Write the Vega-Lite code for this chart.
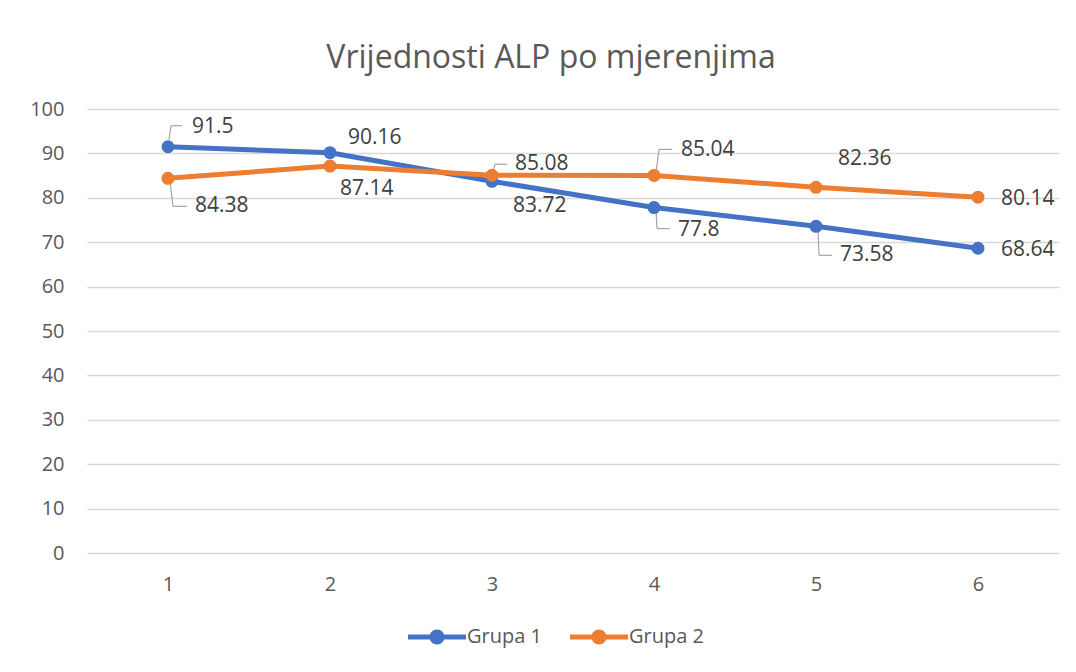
{
  "$schema": "https://vega.github.io/schema/vega-lite/v6.json",
  "width": 972,
  "height": 444,
  "autosize": "none",
  "padding": {"left": 87, "top": 109, "right": 17, "bottom": 119},
  "background": "white",
  "title": {"text": "Vrijednosti ALP po mjerenjima", "font": "Open Sans", "fontSize": 32, "fontWeight": "normal", "color": "#595959", "anchor": "middle", "offset": 24, "dx": -22},
  "data": {"values": [
    {"mjerenje": 1, "grupa": "Grupa 1", "vrijednost": 91.5},
    {"mjerenje": 2, "grupa": "Grupa 1", "vrijednost": 90.16},
    {"mjerenje": 3, "grupa": "Grupa 1", "vrijednost": 83.72},
    {"mjerenje": 4, "grupa": "Grupa 1", "vrijednost": 77.8},
    {"mjerenje": 5, "grupa": "Grupa 1", "vrijednost": 73.58},
    {"mjerenje": 6, "grupa": "Grupa 1", "vrijednost": 68.64},
    {"mjerenje": 1, "grupa": "Grupa 2", "vrijednost": 84.38},
    {"mjerenje": 2, "grupa": "Grupa 2", "vrijednost": 87.14},
    {"mjerenje": 3, "grupa": "Grupa 2", "vrijednost": 85.08},
    {"mjerenje": 4, "grupa": "Grupa 2", "vrijednost": 85.04},
    {"mjerenje": 5, "grupa": "Grupa 2", "vrijednost": 82.36},
    {"mjerenje": 6, "grupa": "Grupa 2", "vrijednost": 80.14}
  ]},
  "encoding": {
    "x": {"field": "mjerenje", "type": "ordinal", "scale": {"type": "point", "padding": 0.5},
      "axis": {"title": null, "labelAngle": 0, "domain": false, "ticks": false, "grid": false, "labelFont": "Open Sans", "labelFontSize": 20, "labelColor": "#595959", "labelPadding": 21}},
    "y": {"field": "vrijednost", "type": "quantitative", "scale": {"domain": [0, 100], "nice": false},
      "axis": {"title": null, "values": [0, 10, 20, 30, 40, 50, 60, 70, 80, 90, 100], "domain": false, "ticks": false, "grid": true, "gridColor": "#d9d9d9", "gridWidth": 1.3, "labelFont": "Open Sans", "labelFontSize": 20, "labelColor": "#595959", "labelPadding": 23}}
  },
  "layer": [
    {"transform": [{"filter": "datum.grupa === 'Grupa 1' && datum.mjerenje === 1"}], "mark": {"type": "rule", "color": "#a5a5a5", "strokeWidth": 1.2, "xOffset": 1, "yOffset": -7, "x2Offset": 3, "y2Offset": -21}, "encoding": {"x2": {"field": "mjerenje"}, "y2": {"field": "vrijednost"}}},
    {"transform": [{"filter": "datum.grupa === 'Grupa 1' && datum.mjerenje === 1"}], "mark": {"type": "rule", "color": "#a5a5a5", "strokeWidth": 1.2, "xOffset": 3, "yOffset": -21, "x2Offset": 14, "y2Offset": -21}, "encoding": {"x2": {"field": "mjerenje"}, "y2": {"field": "vrijednost"}}},
    {"transform": [{"filter": "datum.grupa === 'Grupa 2' && datum.mjerenje === 1"}], "mark": {"type": "rule", "color": "#a5a5a5", "strokeWidth": 1.2, "xOffset": 2, "yOffset": 3, "x2Offset": 5, "y2Offset": 28}, "encoding": {"x2": {"field": "mjerenje"}, "y2": {"field": "vrijednost"}}},
    {"transform": [{"filter": "datum.grupa === 'Grupa 2' && datum.mjerenje === 1"}], "mark": {"type": "rule", "color": "#a5a5a5", "strokeWidth": 1.2, "xOffset": 5, "yOffset": 28, "x2Offset": 19, "y2Offset": 28}, "encoding": {"x2": {"field": "mjerenje"}, "y2": {"field": "vrijednost"}}},
    {"transform": [{"filter": "datum.grupa === 'Grupa 2' && datum.mjerenje === 3"}], "mark": {"type": "rule", "color": "#a5a5a5", "strokeWidth": 1.2, "xOffset": 1, "yOffset": -3, "x2Offset": 3, "y2Offset": -11}, "encoding": {"x2": {"field": "mjerenje"}, "y2": {"field": "vrijednost"}}},
    {"transform": [{"filter": "datum.grupa === 'Grupa 2' && datum.mjerenje === 3"}], "mark": {"type": "rule", "color": "#a5a5a5", "strokeWidth": 1.2, "xOffset": 3, "yOffset": -11, "x2Offset": 15, "y2Offset": -11}, "encoding": {"x2": {"field": "mjerenje"}, "y2": {"field": "vrijednost"}}},
    {"transform": [{"filter": "datum.grupa === 'Grupa 2' && datum.mjerenje === 4"}], "mark": {"type": "rule", "color": "#a5a5a5", "strokeWidth": 1.2, "xOffset": 2, "yOffset": -3, "x2Offset": 5, "y2Offset": -26}, "encoding": {"x2": {"field": "mjerenje"}, "y2": {"field": "vrijednost"}}},
    {"transform": [{"filter": "datum.grupa === 'Grupa 2' && datum.mjerenje === 4"}], "mark": {"type": "rule", "color": "#a5a5a5", "strokeWidth": 1.2, "xOffset": 5, "yOffset": -26, "x2Offset": 18, "y2Offset": -26}, "encoding": {"x2": {"field": "mjerenje"}, "y2": {"field": "vrijednost"}}},
    {"transform": [{"filter": "datum.grupa === 'Grupa 1' && datum.mjerenje === 4"}], "mark": {"type": "rule", "color": "#a5a5a5", "strokeWidth": 1.2, "xOffset": 2, "yOffset": 3, "x2Offset": 3, "y2Offset": 21}, "encoding": {"x2": {"field": "mjerenje"}, "y2": {"field": "vrijednost"}}},
    {"transform": [{"filter": "datum.grupa === 'Grupa 1' && datum.mjerenje === 4"}], "mark": {"type": "rule", "color": "#a5a5a5", "strokeWidth": 1.2, "xOffset": 3, "yOffset": 21, "x2Offset": 16, "y2Offset": 21}, "encoding": {"x2": {"field": "mjerenje"}, "y2": {"field": "vrijednost"}}},
    {"transform": [{"filter": "datum.grupa === 'Grupa 1' && datum.mjerenje === 5"}], "mark": {"type": "rule", "color": "#a5a5a5", "strokeWidth": 1.2, "xOffset": 2, "yOffset": 4, "x2Offset": 3, "y2Offset": 29}, "encoding": {"x2": {"field": "mjerenje"}, "y2": {"field": "vrijednost"}}},
    {"transform": [{"filter": "datum.grupa === 'Grupa 1' && datum.mjerenje === 5"}], "mark": {"type": "rule", "color": "#a5a5a5", "strokeWidth": 1.2, "xOffset": 3, "yOffset": 29, "x2Offset": 16, "y2Offset": 29}, "encoding": {"x2": {"field": "mjerenje"}, "y2": {"field": "vrijednost"}}},
    {"mark": {"type": "line", "strokeWidth": 5, "strokeCap": "round", "strokeJoin": "round"},
      "encoding": {"color": {"field": "grupa", "type": "nominal", "scale": {"domain": ["Grupa 1", "Grupa 2"], "range": ["#4472C4", "#ED7D31"]},
        "legend": {"title": null, "orient": "none", "direction": "horizontal", "legendX": 340, "legendY": 518, "padding": 0,
          "symbolType": "M-3.87,-0.33L3.87,-0.33L3.87,0.33L-3.87,0.33Z M-1,0A1,1 0 1,1 1,0A1,1 0 1,1 -1,0Z",
          "symbolSize": 225, "symbolStrokeWidth": 0, "labelOffset": 20, "columnPadding": 27,
          "labelFont": "Open Sans", "labelFontSize": 20, "labelColor": "#595959",
          "encode": {"symbols": {"update": {"fill": {"scale": "color", "field": "value"}, "stroke": {"value": "transparent"}, "fillOpacity": {"value": 1}}}}}}}},
    {"mark": {"type": "point", "filled": true, "size": 170, "opacity": 1},
      "encoding": {"color": {"field": "grupa", "type": "nominal"}}},
    {"transform": [{"filter": "datum.grupa === 'Grupa 1' && datum.mjerenje === 1"}], "mark": {"type": "text", "align": "left", "baseline": "middle", "font": "Open Sans", "fontSize": 21, "color": "#404040", "dx": 24, "dy": -20}, "encoding": {"text": {"field": "vrijednost", "type": "nominal"}}},
    {"transform": [{"filter": "datum.grupa === 'Grupa 1' && datum.mjerenje === 2"}], "mark": {"type": "text", "align": "left", "baseline": "middle", "font": "Open Sans", "fontSize": 21, "color": "#404040", "dx": 18, "dy": -15}, "encoding": {"text": {"field": "vrijednost", "type": "nominal"}}},
    {"transform": [{"filter": "datum.grupa === 'Grupa 1' && datum.mjerenje === 3"}], "mark": {"type": "text", "align": "left", "baseline": "middle", "font": "Open Sans", "fontSize": 21, "color": "#404040", "dx": 21, "dy": 25}, "encoding": {"text": {"field": "vrijednost", "type": "nominal"}}},
    {"transform": [{"filter": "datum.grupa === 'Grupa 1' && datum.mjerenje === 4"}], "mark": {"type": "text", "align": "left", "baseline": "middle", "font": "Open Sans", "fontSize": 21, "color": "#404040", "dx": 24, "dy": 22}, "encoding": {"text": {"field": "vrijednost", "type": "nominal"}}},
    {"transform": [{"filter": "datum.grupa === 'Grupa 1' && datum.mjerenje === 5"}], "mark": {"type": "text", "align": "left", "baseline": "middle", "font": "Open Sans", "fontSize": 21, "color": "#404040", "dx": 24, "dy": 29}, "encoding": {"text": {"field": "vrijednost", "type": "nominal"}}},
    {"transform": [{"filter": "datum.mjerenje === 6"}], "mark": {"type": "text", "align": "left", "baseline": "middle", "font": "Open Sans", "fontSize": 21, "color": "#404040", "dx": 23, "dy": 2}, "encoding": {"text": {"field": "vrijednost", "type": "nominal"}}},
    {"transform": [{"filter": "datum.grupa === 'Grupa 2' && datum.mjerenje === 1"}], "mark": {"type": "text", "align": "left", "baseline": "middle", "font": "Open Sans", "fontSize": 21, "color": "#404040", "dx": 27, "dy": 28}, "encoding": {"text": {"field": "vrijednost", "type": "nominal"}}},
    {"transform": [{"filter": "datum.grupa === 'Grupa 2' && datum.mjerenje === 2"}], "mark": {"type": "text", "align": "left", "baseline": "middle", "font": "Open Sans", "fontSize": 21, "color": "#404040", "dx": 10, "dy": 23}, "encoding": {"text": {"field": "vrijednost", "type": "nominal"}}},
    {"transform": [{"filter": "datum.grupa === 'Grupa 2' && datum.mjerenje === 3"}], "mark": {"type": "text", "align": "left", "baseline": "middle", "font": "Open Sans", "fontSize": 21, "color": "#404040", "dx": 23, "dy": -11}, "encoding": {"text": {"field": "vrijednost", "type": "nominal"}}},
    {"transform": [{"filter": "datum.grupa === 'Grupa 2' && datum.mjerenje === 4"}], "mark": {"type": "text", "align": "left", "baseline": "middle", "font": "Open Sans", "fontSize": 21, "color": "#404040", "dx": 27, "dy": -25}, "encoding": {"text": {"field": "vrijednost", "type": "nominal"}}},
    {"transform": [{"filter": "datum.grupa === 'Grupa 2' && datum.mjerenje === 5"}], "mark": {"type": "text", "align": "left", "baseline": "middle", "font": "Open Sans", "fontSize": 21, "color": "#404040", "dx": 22, "dy": -28}, "encoding": {"text": {"field": "vrijednost", "type": "nominal"}}}
  ],
  "config": {"view": {"stroke": null}}
}
